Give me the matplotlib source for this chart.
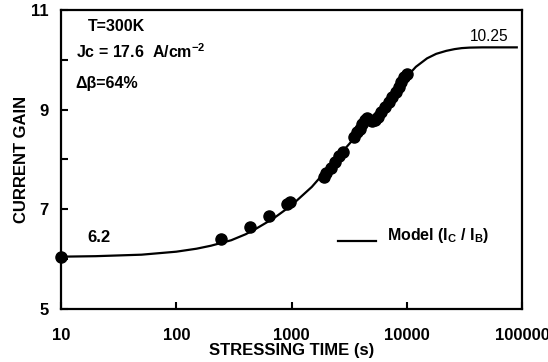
import numpy as np
import matplotlib.pyplot as plt

plt.rcParams['font.family'] = ['Liberation Sans', 'DejaVu Sans']
plt.rcParams['mathtext.fontset'] = 'custom'
plt.rcParams['mathtext.rm'] = 'Liberation Sans:bold'
plt.rcParams['mathtext.bf'] = 'Liberation Sans:bold'
plt.rcParams['mathtext.it'] = 'Liberation Sans:bold'

# measured current gain vs stressing time
t_data = [10, 246, 440, 644, 922, 977, 1900, 2000, 2200, 2400, 2600, 2800,
          3500, 3700, 3900, 4100, 4300, 4500, 4800, 5000, 5300, 5600, 6000,
          6500, 7000, 7500, 8000, 8500, 9000, 9500, 10000]
gain_data = [6.05, 6.40, 6.64, 6.86, 7.10, 7.15, 7.65, 7.72, 7.82, 7.95, 8.08, 8.15,
             8.45, 8.55, 8.62, 8.72, 8.80, 8.83, 8.80, 8.78, 8.80, 8.85, 8.95,
             9.05, 9.15, 9.25, 9.35, 9.45, 9.55, 9.65, 9.72]

# model curve (Ic / Ib)
t_model = [10, 20, 50, 100, 150, 200, 300, 400, 500, 700, 1000, 1500, 2000,
           3000, 4000, 5000, 6000, 7000, 8000, 10000, 12000, 15000, 18000,
           22000, 26000, 30000, 35000, 45000, 90000]
gain_model = [6.05, 6.06, 6.09, 6.15, 6.21, 6.27, 6.38, 6.50, 6.62, 6.82, 7.08,
              7.45, 7.78, 8.25, 8.58, 8.85, 9.05, 9.22, 9.38, 9.66, 9.86, 10.03,
              10.12, 10.18, 10.215, 10.235, 10.245, 10.25, 10.25]

fig = plt.figure(figsize=(5.48, 3.62), dpi=100)
ax = fig.add_axes([0.1113, 0.1464, 0.8413, 0.826])

ax.plot(t_model, gain_model, color='black', lw=1.6, zorder=2)
ax.plot(t_data, gain_data, 'o', color='black', ms=8, zorder=3, clip_on=False)

ax.set_xscale('log')
ax.set_xlim(10, 100000)
ax.set_ylim(5, 11)
ax.set_xticks([10, 100, 1000, 10000, 100000])
ax.set_xticklabels(['10', '100', '1000', '10000', '100000'])
ax.minorticks_off()
ax.set_yticks([5, 6, 7, 8, 9, 10, 11])
ax.set_yticklabels(['5', '', '7', '', '9', '', '11'])

for s in ax.spines.values():
    s.set_linewidth(1.6)
ax.tick_params(direction='in', length=5, width=1.5, labelsize=12)
ax.tick_params(axis='x', pad=14)
ax.tick_params(axis='y', pad=9)
for lab in ax.get_xticklabels() + ax.get_yticklabels():
    lab.set_fontweight('bold')

ax.set_xlabel('STRESSING TIME (s)', fontsize=12, fontweight='bold', labelpad=0)
ax.set_ylabel('CURRENT GAIN', fontsize=12, fontweight='bold', labelpad=1)

ax.text(0.058, 0.946, 'T=300K', transform=ax.transAxes, fontsize=11.5,
        fontweight='bold', va='center')
ax.text(0.032, 0.86, r'Jc = 17.6  A/cm$^{-2}$', transform=ax.transAxes,
        fontsize=11.5, fontweight='bold', va='center')
ax.text(0.032, 0.753, 'Δβ=64%', transform=ax.transAxes, fontsize=11.5,
        fontweight='bold', va='center')
ax.text(0.057, 0.24, '6.2', transform=ax.transAxes, fontsize=12,
        fontweight='bold', va='center')
ax.text(0.97, 0.91, '10.25', transform=ax.transAxes, fontsize=11.2,
        ha='right', va='center')

ax.plot([0.601, 0.683], [0.227, 0.227], transform=ax.transAxes,
        color='black', lw=1.6)
ax.text(0.708, 0.245, r'Model (I$_{C}$ / I$_{B}$)', transform=ax.transAxes,
        fontsize=11.5, fontweight='bold', va='center')

fig.savefig('out.png', dpi=100)
